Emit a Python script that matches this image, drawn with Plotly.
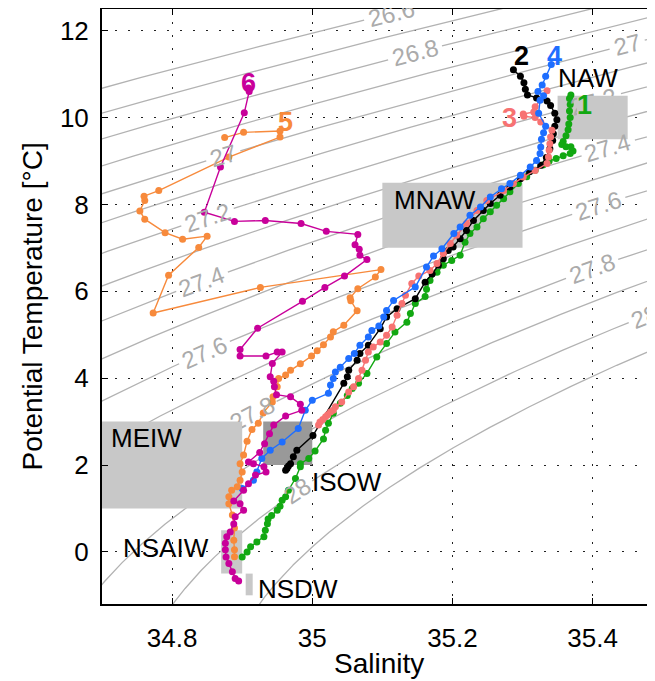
import numpy as np
import plotly.graph_objects as go

# ---------------- data ----------------
PROFILE_NAMES = ["1", "2", "3", "4", "5", "6"]
PROFILE_COLORS = ["#12A812", "#000000", "#F77272", "#1E6EFF", "#F78A3C", "#C8009A"]

S1 = [35.369, 35.367, 35.368, 35.367, 35.368, 35.366, 35.365, 35.362, 35.358, 35.356, 35.362, 35.369, 35.372, 35.368,
      35.358, 35.348, 35.338, 35.329, 35.318, 35.306, 35.294, 35.282, 35.273, 35.263, 35.254, 35.244, 35.235, 35.225,
      35.218, 35.211, 35.199, 35.187, 35.178, 35.168, 35.163, 35.161, 35.147, 35.140, 35.135, 35.118, 35.106, 35.092,
      35.078, 35.066, 35.057, 35.050, 35.040, 35.030, 35.023, 35.019, 35.016, 35.004, 34.995, 34.983, 34.983, 34.976,
      34.966, 34.962, 34.957, 34.954, 34.950, 34.942, 34.937, 34.936, 34.933, 34.931, 34.921, 34.912, 34.907, 34.900]
T1 = [10.52, 10.44, 10.30, 10.15, 10.00, 9.85, 9.72, 9.58, 9.45, 9.38, 9.33, 9.33, 9.23, 9.17,
      9.12, 9.06, 9.00, 8.91, 8.79, 8.64, 8.48, 8.29, 8.13, 7.98, 7.83, 7.67, 7.48, 7.33,
      7.13, 6.83, 6.71, 6.60, 6.44, 6.25, 6.05, 5.88, 5.72, 5.49, 5.29, 5.06, 4.80, 4.49,
      4.11, 3.88, 3.76, 3.60, 3.42, 3.19, 2.96, 2.80, 2.60, 2.32, 2.15, 2.03, 1.96, 1.69,
      1.42, 1.27, 1.19, 1.05, 0.96, 0.84, 0.76, 0.65, 0.50, 0.35, 0.23, 0.12, 0.00, -0.12]

S2 = [35.287, 35.297, 35.302, 35.304, 35.307, 35.320, 35.335, 35.340, 35.346, 35.349, 35.346, 35.344, 35.343, 35.339,
      35.334, 35.326, 35.310, 35.297, 35.282, 35.268, 35.254, 35.244, 35.230, 35.220, 35.211, 35.201, 35.194, 35.187,
      35.180, 35.171, 35.161, 35.147, 35.121, 35.106, 35.097, 35.080, 35.068, 35.064, 35.052, 35.050, 35.045, 35.001,
      34.978, 34.973, 34.969, 34.966, 34.964, 34.962]
T2 = [11.10, 10.95, 10.80, 10.65, 10.52, 10.45, 10.38, 10.28, 10.10, 9.95, 9.80, 9.63, 9.47, 9.28,
      9.08, 8.90, 8.75, 8.59, 8.40, 8.21, 8.02, 7.86, 7.63, 7.40, 7.21, 7.02, 6.94, 6.75,
      6.60, 6.40, 6.21, 5.83, 5.60, 5.41, 5.14, 4.76, 4.57, 4.41, 4.18, 4.03, 3.88, 2.68,
      2.34, 2.19, 2.03, 1.98, 1.92, 1.88]

S3 = [35.335, 35.318, 35.316, 35.301, 35.302, 35.318, 35.326, 35.342, 35.340, 35.339, 35.338, 35.337, 35.335, 35.318,
      35.301, 35.287, 35.273, 35.249, 35.235, 35.220, 35.206, 35.197, 35.187, 35.178, 35.168, 35.152, 35.142, 35.133,
      35.128, 35.121, 35.114, 35.106, 35.097, 35.087, 35.080, 35.076, 35.071, 35.066, 35.059, 35.052, 35.042, 35.033,
      35.030, 35.026, 35.022, 35.019, 35.015, 35.011, 35.009]
T3 = [10.62, 10.25, 10.13, 10.08, 10.03, 10.00, 9.90, 9.71, 9.55, 9.40, 9.25, 9.09, 8.94, 8.78,
      8.63, 8.48, 8.32, 8.09, 7.86, 7.56, 7.29, 7.10, 6.87, 6.64, 6.48, 6.35, 6.18, 5.91,
      5.72, 5.45, 5.18, 4.99, 4.83, 4.72, 4.60, 4.41, 4.18, 3.99, 3.80, 3.68, 3.45, 3.34,
      3.26, 3.22, 3.16, 3.11, 3.05, 2.99, 2.92]

S4 = [35.341, 35.333, 35.328, 35.322, 35.330, 35.325, 35.323, 35.333, 35.330, 35.327, 35.326, 35.325, 35.320, 35.311,
      35.297, 35.282, 35.270, 35.254, 35.240, 35.225, 35.211, 35.202, 35.185, 35.173, 35.163, 35.147, 35.116, 35.106,
      35.102, 35.095, 35.085, 35.080, 35.068, 35.060, 35.052, 35.040, 35.033, 35.030, 35.026, 35.023, 35.000, 34.990,
      34.980, 34.957, 34.940, 34.928, 34.921, 34.916, 34.900]
T4 = [11.22, 10.95, 10.75, 10.60, 10.50, 10.40, 10.10, 9.80, 9.65, 9.50, 9.32, 9.17, 9.01, 8.86,
      8.67, 8.48, 8.36, 8.17, 7.94, 7.75, 7.48, 7.33, 6.98, 6.81, 6.56, 6.10, 5.79, 5.56,
      5.41, 5.20, 5.10, 4.95, 4.76, 4.57, 4.45, 4.25, 4.14, 3.99, 3.84, 3.65, 3.49, 3.26,
      2.84, 2.53, 2.34, 2.15, 1.84, 1.65, 1.46]

S5 = [34.875, 34.902, 34.954, 34.954, 34.881, 34.781, 34.760, 34.761, 34.754, 34.761, 34.790, 34.815, 34.850, 34.838,
      34.795, 34.773, 34.926, 35.098, 35.090, 35.065, 35.054, 35.055, 35.064, 35.045, 35.030, 35.026, 35.016, 35.007,
      34.999, 34.983, 34.969, 34.962, 34.952, 34.950, 34.944, 34.943, 34.930, 34.923, 34.914, 34.907, 34.902, 34.897,
      34.900, 34.897, 34.893, 34.885, 34.881, 34.881, 34.886, 34.889, 34.888, 34.889, 34.889]
T5 = [9.54, 9.66, 9.69, 9.55, 9.09, 8.32, 8.19, 8.09, 7.85, 7.66, 7.35, 7.20, 7.27, 7.01,
      6.37, 5.50, 6.09, 6.50, 6.33, 6.06, 5.85, 5.78, 5.55, 5.22, 5.07, 4.95, 4.77, 4.63,
      4.51, 4.33, 4.18, 4.07, 3.99, 3.80, 3.57, 3.45, 3.20, 2.96, 2.82, 2.55, 2.23, 2.03,
      1.84, 1.65, 1.50, 1.42, 1.27, 1.11, 0.85, 0.55, 0.27, 0.05, -0.11]

S6 = [34.909, 34.910, 34.903, 34.869, 34.846, 34.889, 34.933, 34.984, 35.020, 35.065, 35.061, 35.067, 35.068, 35.078,
      35.046, 35.018, 34.986, 34.922, 34.897, 34.897, 34.934, 34.950, 34.957, 34.943, 34.940, 34.945, 34.946, 34.949,
      34.969, 34.983, 34.985, 34.962, 34.945, 34.939, 34.932, 34.925, 34.909, 34.916, 34.931, 34.934, 34.919, 34.909,
      34.902, 34.888, 34.897, 34.902, 34.890, 34.888, 34.883, 34.878, 34.876, 34.876, 34.877, 34.881, 34.886, 34.890,
      34.895]
T6 = [10.68, 10.60, 10.11, 8.86, 7.82, 7.61, 7.63, 7.56, 7.38, 7.31, 7.07, 6.97, 6.83, 6.73,
      6.35, 6.09, 5.77, 5.15, 4.66, 4.51, 4.51, 4.60, 4.60, 4.34, 4.03, 3.93, 3.80, 3.62,
      3.57, 3.40, 3.26, 3.13, 2.92, 2.72, 2.49, 2.29, 2.07, 2.03, 1.96, 1.84, 1.77, 1.57,
      1.42, 1.17, 1.11, 0.96, 0.81, 0.64, 0.46, 0.35, 0.20, 0.05, -0.12, -0.27, -0.46, -0.61,
      -0.67]

PROFILES_S = [S1, S2, S3, S4, S5, S6]
PROFILES_T = [T1, T2, T3, T4, T5, T6]

# water-mass boxes
BOX_NAMES = ["NAW", "MNAW", "MEIW", "ISOW", "NSAIW", "NSDW"]
BOX_S_MIN = [35.35, 35.10, 34.70, 34.93, 34.87, 34.905]
BOX_S_MAX = [35.45, 35.30, 34.90, 35.00, 34.90, 34.915]
BOX_T_MIN = [9.5, 7.0, 1.0, 2.0, -0.5, -1.0]
BOX_T_MAX = [10.5, 8.5, 3.0, 3.0, 0.5, -0.5]
BOX_COLORS = ["#C8C8C8", "#C8C8C8", "#C8C8C8", "#999999", "#C8C8C8", "#C8C8C8"]

# sigma-theta isopycnals
SIGMA_LEVELS = [26.6, 26.7, 26.8, 26.9, 27.0, 27.1, 27.2, 27.3, 27.4, 27.5, 27.6, 27.7, 27.8, 27.9, 28.0, 28.1]
LABEL_LEVELS = [26.6, 26.8, 27.0, 27.0, 27.2, 27.2, 27.4, 27.4, 27.6, 27.6, 27.8, 27.8, 28.0, 28.0]
LABEL_T = [12.40, 11.49, 9.12, 11.68, 7.71, 10.38, 6.22, 9.30, 4.59, 7.97, 3.18, 6.52, 1.41, 5.43]

X_TICKS = [34.8, 35.0, 35.2, 35.4]
X_TICK_TEXT = ["34.8", "35", "35.2", "35.4"]
Y_TICKS = [0, 2, 4, 6, 8, 10, 12]
Y_TICK_TEXT = ["0", "2", "4", "6", "8", "10", "12"]

# ---------------- layout geometry ----------------
# the page body adds an 8 px offset, so the figure is 8 px smaller than the window
W, H = 647, 673
ML, MR, MT, MB = 94, 0, 1, 77
X_RANGE = [34.7, 35.489]
Y_RANGE = [-1.2, 12.5]
PW, PH = W - ML - MR, H - MT - MB
PX_S = PW / (X_RANGE[1] - X_RANGE[0])
PX_T = PH / (Y_RANGE[1] - Y_RANGE[0])
FONT = "Liberation Sans, Arial, Helvetica, sans-serif"
LABEL_FS = 24
GRAY_LINE = "#B2B2B2"
GRAY_TEXT = "#ABABAB"


def sigma0(S, T):
    rw = (999.842594 + 6.793952e-2 * T - 9.095290e-3 * T ** 2 + 1.001685e-4 * T ** 3
          - 1.120083e-6 * T ** 4 + 6.536332e-9 * T ** 5)
    A = 0.824493 - 4.0899e-3 * T + 7.6438e-5 * T ** 2 - 8.2467e-7 * T ** 3 + 5.3875e-9 * T ** 4
    B = -5.72466e-3 + 1.0227e-4 * T - 1.6546e-6 * T ** 2
    C = 4.8314e-4
    return rw + A * S + B * S ** 1.5 + C * S ** 2 - 1000.0


def salinity_on_level(level, T):
    T = np.atleast_1d(np.asarray(T, dtype=float))
    lo = np.full_like(T, 30.0)
    hi = np.full_like(T, 38.0)
    for _ in range(60):
        mid = 0.5 * (lo + hi)
        above = sigma0(mid, T) > level
        hi = np.where(above, mid, hi)
        lo = np.where(above, lo, mid)
    return 0.5 * (lo + hi)


def text_width(txt, fs):
    return sum(0.556 * fs if c.isdigit() else 0.278 * fs for c in txt)


fig = go.Figure()

# isopycnal lines (with gaps at labels)
T_GRID = np.linspace(Y_RANGE[0] - 0.3, Y_RANGE[1] + 0.3, 2500)
cx, cy = [], []
for lev in SIGMA_LEVELS:
    s_line = salinity_on_level(lev, T_GRID)
    keep = np.ones_like(T_GRID, dtype=bool)
    for ll, lt in zip(LABEL_LEVELS, LABEL_T):
        if abs(ll - lev) > 1e-6:
            continue
        sc = salinity_on_level(ll, lt)[0]
        half = text_width(f"{ll:g}", LABEL_FS) / 2 + 4
        d = np.hypot((s_line - sc) * PX_S, (T_GRID - lt) * PX_T)
        keep &= d > half
    for s, t, k in zip(s_line, T_GRID, keep):
        if k:
            cx.append(float(s))
            cy.append(float(t))
        else:
            cx.append(None)
            cy.append(None)
    cx.append(None)
    cy.append(None)

fig.add_trace(go.Scatter(x=cx, y=cy, mode="lines", line=dict(color=GRAY_LINE, width=1.3),
                         hoverinfo="skip", connectgaps=False))

# water-mass boxes
for name, s0, s1, t0, t1, col in zip(BOX_NAMES, BOX_S_MIN, BOX_S_MAX, BOX_T_MIN, BOX_T_MAX, BOX_COLORS):
    fig.add_trace(go.Scatter(x=[s0, s1, s1, s0, s0], y=[t0, t0, t1, t1, t0], mode="lines",
                             fill="toself", fillcolor=col, line=dict(width=0, color=col),
                             hoverinfo="skip", name=name))

# profiles
for name, S, T, col in zip(PROFILE_NAMES, PROFILES_S, PROFILES_T, PROFILE_COLORS):
    fig.add_trace(go.Scatter(x=S, y=T, mode="lines+markers", name=name,
                             line=dict(color=col, width=1.4),
                             marker=dict(color=col, size=7, line=dict(width=0))))

# isopycnal labels
for ll, lt in zip(LABEL_LEVELS, LABEL_T):
    sc = salinity_on_level(ll, lt)[0]
    sa = salinity_on_level(ll, lt - 0.1)[0]
    sb = salinity_on_level(ll, lt + 0.1)[0]
    ang = -np.degrees(np.arctan2(0.2 * PX_T, (sb - sa) * PX_S))
    fig.add_annotation(x=sc, y=lt, text=f"{ll:g}", textangle=float(ang), showarrow=False,
                       xanchor="center", yanchor="middle",
                       font=dict(family=FONT, size=LABEL_FS, color=GRAY_TEXT))

# parts of labels that lie under boxes (MEIW and NAW) are hidden by box-coloured patches
PATCHES = [(34.84, 34.90, 2.70, 3.00), (35.378, 35.45, 9.95, 10.50)]
for s0, s1, t0, t1 in PATCHES:
    fig.add_annotation(x=s0, y=t1, xanchor="left", yanchor="top", showarrow=False, text=" ",
                       width=(s1 - s0) * PX_S, height=(t1 - t0) * PX_T, bgcolor="#C8C8C8",
                       borderpad=0, borderwidth=0, font=dict(size=1))

# box labels
BOX_LABEL_S = [35.394, 35.175, 34.764, 35.05, 34.792, 34.979]
BOX_LABEL_T = [10.9, 8.11, 2.63, 1.61, 0.10, -0.86]
for name, s, t in zip(BOX_NAMES, BOX_LABEL_S, BOX_LABEL_T):
    fig.add_annotation(x=s, y=t, text=name, showarrow=False, xanchor="center", yanchor="middle",
                       font=dict(family=FONT, size=26, color="black"))

# profile number labels
NUM_S = [35.389, 35.298, 35.282, 35.346, 34.962, 34.909]
NUM_T = [10.30, 11.41, 10.0, 11.41, 9.90, 10.80]
for name, s, t, col in zip(PROFILE_NAMES, NUM_S, NUM_T, PROFILE_COLORS):
    fig.add_annotation(x=s, y=t, text=name, showarrow=False, xanchor="center", yanchor="middle",
                       font=dict(family=FONT, size=27, color=col, weight="bold"))

# axis titles (positions given in window pixels, minus the 8 px page offset)
SAL_Y = 663 - 8
YT_X = 32 - 8
fig.add_annotation(xref="paper", yref="paper", x=0.5, y=-(SAL_Y - (MT + PH)) / PH,
                   text="Salinity", showarrow=False, xanchor="center", yanchor="middle",
                   font=dict(family=FONT, size=28, color="black"))
fig.add_annotation(xref="paper", yref="paper", x=(YT_X - ML) / PW, y=0.5,
                   text="Potential Temperature [°C]", textangle=-90, showarrow=False,
                   xanchor="center", yanchor="middle",
                   font=dict(family=FONT, size=28, color="black"))

axis_common = dict(showgrid=True, gridcolor="#222222", gridwidth=1, griddash="2px,11px",
                   zeroline=False, showline=True, linecolor="black", linewidth=2,
                   ticks="inside", ticklen=6, tickwidth=1, tickcolor="black",
                   tickfont=dict(family=FONT, size=26, color="black"))

fig.update_xaxes(range=X_RANGE, tickvals=X_TICKS, ticktext=X_TICK_TEXT, mirror="ticks",
                 ticklabelstandoff=10, **axis_common)
fig.update_yaxes(range=Y_RANGE, tickvals=Y_TICKS, ticktext=Y_TICK_TEXT, mirror=False,
                 ticklabelstandoff=6, **axis_common)

fig.update_layout(width=W, height=H, margin=dict(l=ML, r=MR, t=MT, b=MB),
                  plot_bgcolor="white", paper_bgcolor="white", showlegend=False,
                  font=dict(family=FONT, color="black"))

fig.write_html("out.html")
